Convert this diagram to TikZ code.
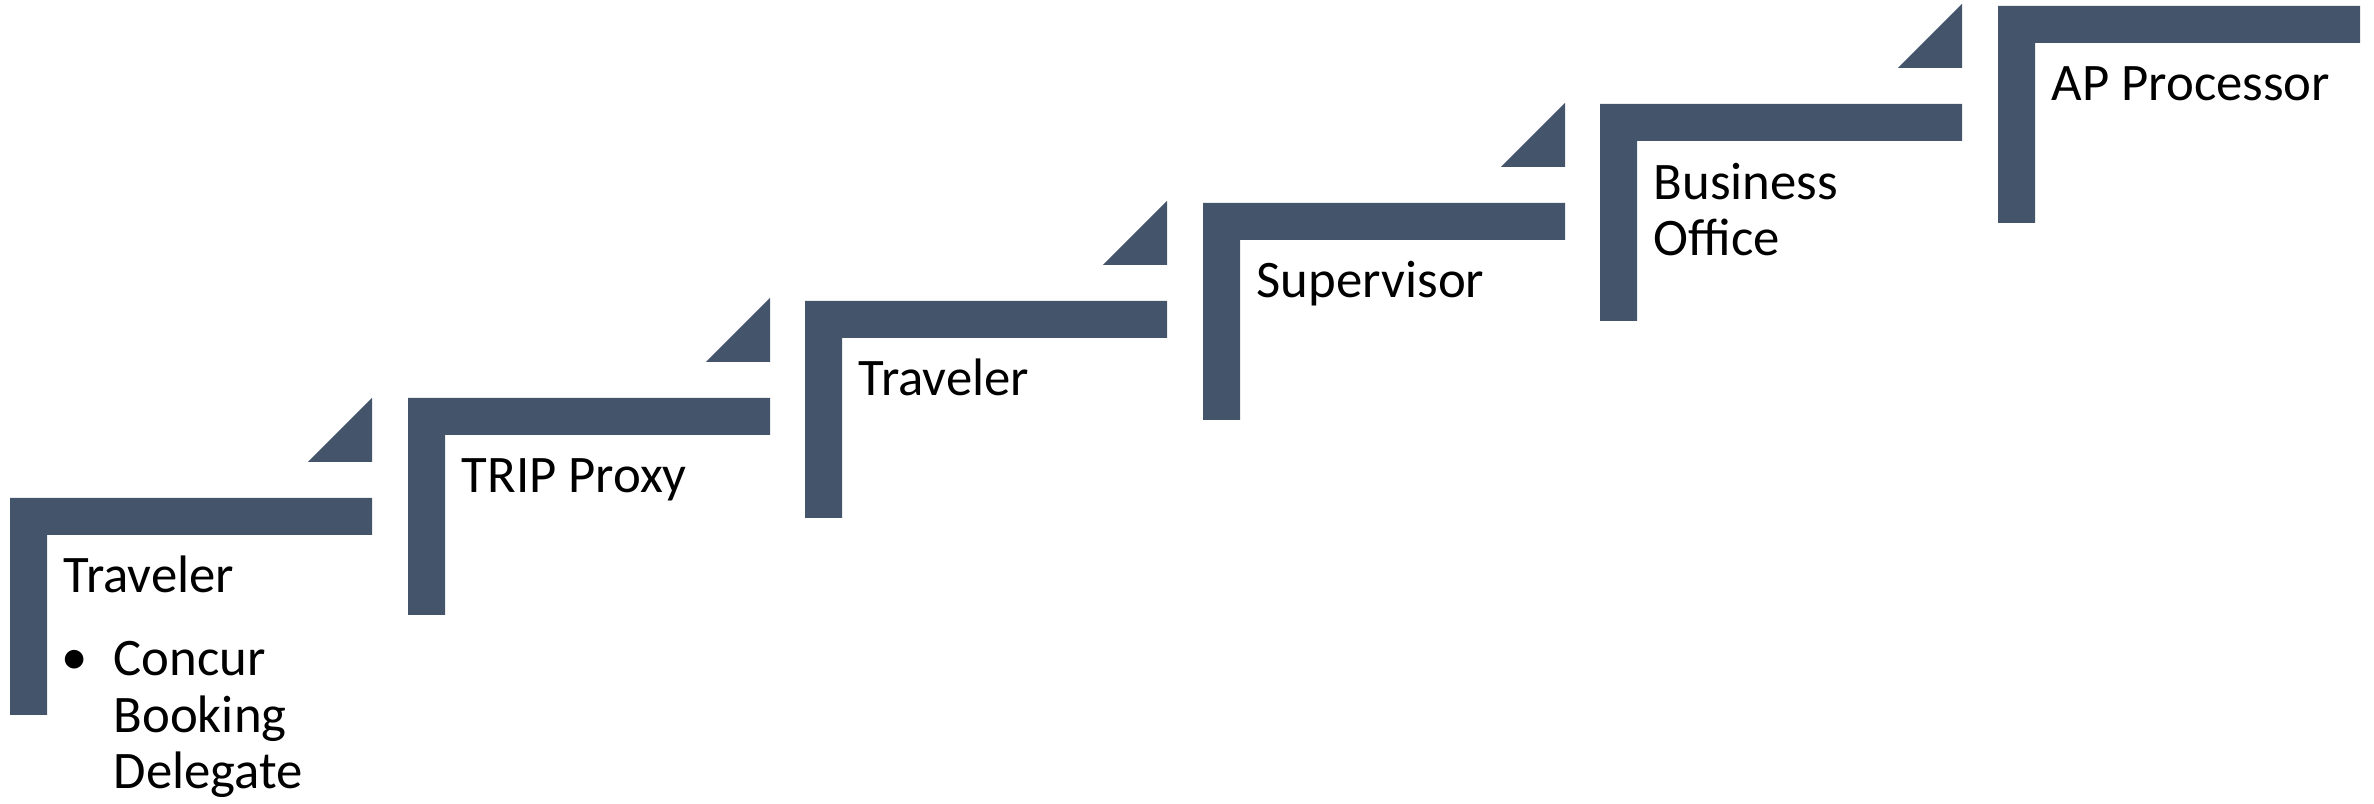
\documentclass[tikz,border=0pt]{standalone}
\usepackage{fontspec}
\setmainfont{Carlito}
\usepackage{tikz}
\usetikzlibrary{positioning}
\definecolor{pizarra}{RGB}{68, 84, 106}
\tikzset{
    peldano/.style={fill=pizarra, draw=none},
    punta/.style={fill=pizarra, draw=none},
    rol/.style={anchor=base west, inner sep=0pt, text=black, align=left, font=\fontsize{15pt}{16.2pt}\selectfont},
}
\begin{document}
\begin{tikzpicture}[x=0.01cm, y=-0.01cm]
            \useasboundingbox (0,0) rectangle (2374,804);

            % steps
            \fill[peldano] (10,715) -- (10,498) -- (372,498) -- (372,535) -- (47,535) -- (47,715) -- cycle;
            \fill[peldano] (408,615) -- (408,398) -- (770,398) -- (770,435) -- (445,435) -- (445,615) -- cycle;
            \fill[peldano] (805,518) -- (805,301) -- (1167,301) -- (1167,338) -- (842,338) -- (842,518) -- cycle;
            \fill[peldano] (1203,420) -- (1203,203) -- (1565,203) -- (1565,240) -- (1240,240) -- (1240,420) -- cycle;
            \fill[peldano] (1600,321) -- (1600,104) -- (1962,104) -- (1962,141) -- (1637,141) -- (1637,321) -- cycle;
            \fill[peldano] (1998,223) -- (1998,6) -- (2360,6) -- (2360,43) -- (2035,43) -- (2035,223) -- cycle;

            % arrow tips
            \fill[punta] (308,462) -- (372,462) -- (372,398) -- cycle;
            \fill[punta] (706,362) -- (770,362) -- (770,298) -- cycle;
            \fill[punta] (1103,265) -- (1167,265) -- (1167,201) -- cycle;
            \fill[punta] (1501,167) -- (1565,167) -- (1565,103) -- cycle;
            \fill[punta] (1898,68) -- (1962,68) -- (1962,4) -- cycle;

            % base of a multi-line node is its last line
            \node[rol] (r1) at (63,593) {Traveler};
            \node[rol] (r1b) at (61,675) {•};
            \node[rol] (r1c) at (113,789) {Concur\\Booking\\Delegate};
            \node[rol] (r2) at (461,493) {TRIP Proxy};
            \node[rol] (r3) at (858,396) {Traveler};
            \node[rol] (r4) at (1256,298) {Supervisor};
            \node[rol] (r5) at (1653,256) {Business\\Office};
            \node[rol] (r6) at (2051,101) {AP Processor};
        \end{tikzpicture}
\end{document}
